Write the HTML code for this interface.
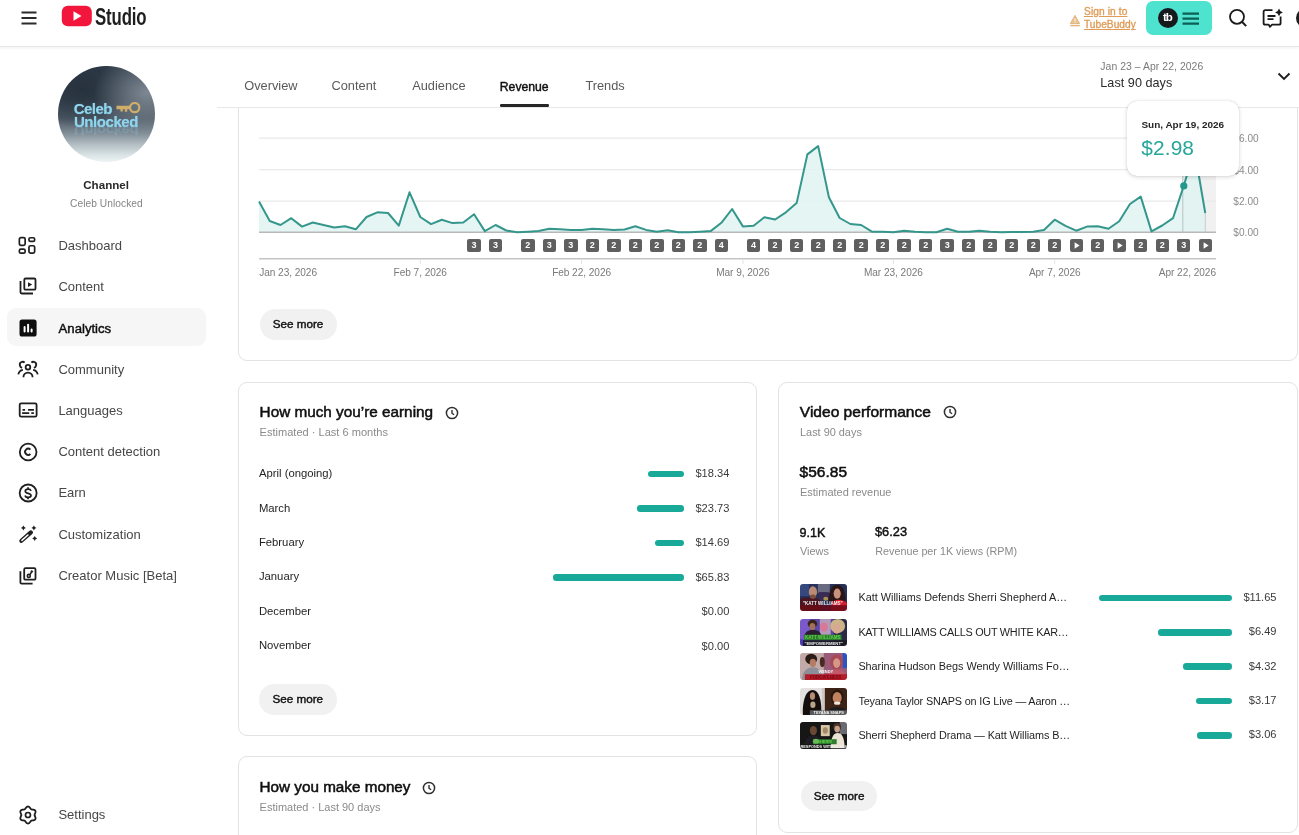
<!DOCTYPE html><html><head><meta charset="utf-8"><title>Channel analytics - YouTube Studio</title><style>
*{box-sizing:border-box}
html,body{margin:0;padding:0;background:#fff}
body{width:1299px;height:835px;overflow:hidden;position:relative;font-family:"Liberation Sans", Arial, sans-serif;-webkit-font-smoothing:antialiased}
.ab{position:absolute}
.t{position:absolute;white-space:nowrap}
#hdr{position:absolute;left:0;top:0;width:1299px;height:47.3px;background:#fff;border-bottom:1.6px solid #e7e7e7;box-shadow:0 1.5px 2px rgba(0,0,0,0.035)}
.card{position:absolute;border:1.2px solid #e3e3e3;border-radius:9px;background:#fff}
.mk{position:absolute;top:239.3px;width:13.4px;height:13.2px;border-radius:2px;background:#5f5f5f;color:#fff;font-size:9px;line-height:13.2px;text-align:center;font-weight:700}
.thumb{width:47.6px;height:27.3px;border-radius:3px;overflow:hidden}
#av{left:58.2px;top:65.5px;width:96.6px;height:96.6px;border-radius:50%;overflow:hidden;
background:radial-gradient(ellipse 55% 45% at 92% 28%,rgba(150,160,170,0.75),rgba(150,160,170,0) 100%),radial-gradient(ellipse 50% 40% at 25% 25%,rgba(30,40,52,0.6),rgba(30,40,52,0) 100%),linear-gradient(180deg,#2f3b48 0%,#36424f 35%,#4b5763 55%,#7d8993 69%,#b4bfc4 82%,#dae4e6 93%,#eef4f4 100%)}
#avt1,#avt2,#avt3{position:absolute;font-weight:700;color:#8fd5ee;letter-spacing:-0.4px;font-size:15px;line-height:15px;text-shadow:0 0 1px rgba(140,215,240,0.6)}
#avt1{left:15.5px;top:35px;letter-spacing:-0.5px}
#avt2{left:15.8px;top:48px;letter-spacing:-0.45px}
#avt3{left:15.8px;top:57.5px;transform:scaleY(-0.8);opacity:0.22}
</style></head><body><div class="card" style="left:237.5px;top:60px;width:1060.3px;height:301px"></div><svg class="ab" style="left:0;top:0" width="1299" height="835" viewBox="0 0 1299 835"><rect x="1183" y="110" width="33" height="122.3" fill="#f1f1f1"/><line x1="259" y1="138.1" x2="1216" y2="138.1" stroke="#e9e9e9" stroke-width="1.2"/><line x1="259" y1="169.7" x2="1216" y2="169.7" stroke="#e9e9e9" stroke-width="1.2"/><line x1="259" y1="201.2" x2="1216" y2="201.2" stroke="#e9e9e9" stroke-width="1.2"/><polygon points="259.00,201.60 269.75,221.00 280.51,225.00 291.26,218.20 302.01,226.60 312.76,222.50 323.52,225.00 334.27,227.40 345.02,226.20 355.78,229.30 366.53,217.00 377.28,212.30 388.03,213.00 398.79,225.60 409.54,192.30 420.29,217.00 431.04,224.10 441.80,219.70 452.55,223.10 463.30,222.50 474.06,214.20 484.81,231.10 495.56,225.00 506.31,230.50 517.07,232.30 527.82,231.70 538.57,231.10 549.33,228.70 560.08,229.30 570.83,229.90 581.58,229.90 592.34,228.70 603.09,229.30 613.84,229.90 624.60,229.50 635.35,226.20 646.10,229.90 656.85,231.70 667.61,230.30 678.36,232.30 689.11,232.30 699.87,231.70 710.62,231.10 721.37,222.80 732.12,209.00 742.88,226.40 753.63,225.70 764.38,217.20 775.13,219.50 785.89,212.30 796.64,203.10 807.39,154.40 818.15,146.10 828.90,197.20 839.65,218.00 850.40,224.00 861.16,225.00 871.91,231.70 882.66,231.70 893.42,232.30 904.17,230.70 914.92,231.70 925.67,232.30 936.43,232.30 947.18,228.70 957.93,231.70 968.69,231.70 979.44,230.70 990.19,231.70 1000.94,232.30 1011.70,232.00 1022.45,232.00 1033.20,231.70 1043.96,229.90 1054.71,219.70 1065.46,225.80 1076.21,230.70 1086.97,226.60 1097.72,226.20 1108.47,228.70 1119.22,221.30 1129.98,204.00 1140.73,196.60 1151.48,231.40 1162.24,225.50 1172.99,218.20 1183.74,185.90 1194.49,150.00 1205.25,213.00 1205.25,232.3 259,232.3" fill="#dff3f2" fill-opacity="0.85"/><line x1="1182.8" y1="110" x2="1182.8" y2="232.3" stroke="#b9c4c3" stroke-width="1"/><line x1="1205.3" y1="213" x2="1205.3" y2="232.3" stroke="#c5cfce" stroke-width="1"/><line x1="259" y1="232.3" x2="1216" y2="232.3" stroke="#b8b8b8" stroke-width="1.4"/><polyline points="259.00,201.60 269.75,221.00 280.51,225.00 291.26,218.20 302.01,226.60 312.76,222.50 323.52,225.00 334.27,227.40 345.02,226.20 355.78,229.30 366.53,217.00 377.28,212.30 388.03,213.00 398.79,225.60 409.54,192.30 420.29,217.00 431.04,224.10 441.80,219.70 452.55,223.10 463.30,222.50 474.06,214.20 484.81,231.10 495.56,225.00 506.31,230.50 517.07,232.30 527.82,231.70 538.57,231.10 549.33,228.70 560.08,229.30 570.83,229.90 581.58,229.90 592.34,228.70 603.09,229.30 613.84,229.90 624.60,229.50 635.35,226.20 646.10,229.90 656.85,231.70 667.61,230.30 678.36,232.30 689.11,232.30 699.87,231.70 710.62,231.10 721.37,222.80 732.12,209.00 742.88,226.40 753.63,225.70 764.38,217.20 775.13,219.50 785.89,212.30 796.64,203.10 807.39,154.40 818.15,146.10 828.90,197.20 839.65,218.00 850.40,224.00 861.16,225.00 871.91,231.70 882.66,231.70 893.42,232.30 904.17,230.70 914.92,231.70 925.67,232.30 936.43,232.30 947.18,228.70 957.93,231.70 968.69,231.70 979.44,230.70 990.19,231.70 1000.94,232.30 1011.70,232.00 1022.45,232.00 1033.20,231.70 1043.96,229.90 1054.71,219.70 1065.46,225.80 1076.21,230.70 1086.97,226.60 1097.72,226.20 1108.47,228.70 1119.22,221.30 1129.98,204.00 1140.73,196.60 1151.48,231.40 1162.24,225.50 1172.99,218.20 1183.74,185.90 1194.49,150.00 1205.25,213.00" fill="none" stroke="#35978c" stroke-width="2" stroke-linejoin="round"/><circle cx="1183.8" cy="185.9" r="3.6" fill="#22998c"/><line x1="259" y1="258.8" x2="1216" y2="258.8" stroke="#c4c4c4" stroke-width="1.6"/><line x1="420.3" y1="259" x2="420.3" y2="264" stroke="#e4e4e4" stroke-width="1"/><line x1="581.6" y1="259" x2="581.6" y2="264" stroke="#e4e4e4" stroke-width="1"/><line x1="742.9" y1="259" x2="742.9" y2="264" stroke="#e4e4e4" stroke-width="1"/><line x1="893.4" y1="259" x2="893.4" y2="264" stroke="#e4e4e4" stroke-width="1"/><line x1="1054.7" y1="259" x2="1054.7" y2="264" stroke="#e4e4e4" stroke-width="1"/></svg><div class="mk" style="left:467.36px">3</div><div class="mk" style="left:488.86px">3</div><div class="mk" style="left:521.12px">2</div><div class="mk" style="left:542.63px">3</div><div class="mk" style="left:564.13px">3</div><div class="mk" style="left:585.64px">2</div><div class="mk" style="left:607.14px">2</div><div class="mk" style="left:628.65px">2</div><div class="mk" style="left:650.15px">2</div><div class="mk" style="left:671.66px">2</div><div class="mk" style="left:693.17px">2</div><div class="mk" style="left:714.67px">4</div><div class="mk" style="left:746.93px">4</div><div class="mk" style="left:768.43px">2</div><div class="mk" style="left:789.94px">2</div><div class="mk" style="left:811.45px">2</div><div class="mk" style="left:832.95px">2</div><div class="mk" style="left:854.46px">2</div><div class="mk" style="left:875.96px">2</div><div class="mk" style="left:897.47px">2</div><div class="mk" style="left:918.97px">2</div><div class="mk" style="left:940.48px">3</div><div class="mk" style="left:961.99px">2</div><div class="mk" style="left:983.49px">2</div><div class="mk" style="left:1005.00px">2</div><div class="mk" style="left:1026.50px">2</div><div class="mk" style="left:1048.01px">2</div><div class="mk" style="left:1069.51px"><svg width="13" height="13" viewBox="0 0 13 13" style="display:block"><path d="M4.6 3.3v6.4l5-3.2z" fill="#fff"/></svg></div><div class="mk" style="left:1091.02px">2</div><div class="mk" style="left:1112.52px"><svg width="13" height="13" viewBox="0 0 13 13" style="display:block"><path d="M4.6 3.3v6.4l5-3.2z" fill="#fff"/></svg></div><div class="mk" style="left:1134.03px">2</div><div class="mk" style="left:1155.54px">2</div><div class="mk" style="left:1177.04px">3</div><div class="mk" style="left:1198.55px"><svg width="13" height="13" viewBox="0 0 13 13" style="display:block"><path d="M4.6 3.3v6.4l5-3.2z" fill="#fff"/></svg></div><div class="t" style="top:268.25px;font-size:10.1px;line-height:10.1px;color:#7a7a7a;letter-spacing:-0.05px;left:259.20px;">Jan 23, 2026</div>
<div class="t" style="top:268.25px;font-size:10.1px;line-height:10.1px;color:#7a7a7a;letter-spacing:-0.05px;left:220.29px;width:400px;text-align:center;">Feb 7, 2026</div>
<div class="t" style="top:268.25px;font-size:10.1px;line-height:10.1px;color:#7a7a7a;letter-spacing:-0.05px;left:381.58px;width:400px;text-align:center;">Feb 22, 2026</div>
<div class="t" style="top:268.25px;font-size:10.1px;line-height:10.1px;color:#7a7a7a;letter-spacing:-0.05px;left:542.88px;width:400px;text-align:center;">Mar 9, 2026</div>
<div class="t" style="top:268.25px;font-size:10.1px;line-height:10.1px;color:#7a7a7a;letter-spacing:-0.05px;left:693.42px;width:400px;text-align:center;">Mar 23, 2026</div>
<div class="t" style="top:268.25px;font-size:10.1px;line-height:10.1px;color:#7a7a7a;letter-spacing:-0.05px;left:854.71px;width:400px;text-align:center;">Apr 7, 2026</div>
<div class="t" style="top:268.25px;font-size:10.1px;line-height:10.1px;color:#7a7a7a;letter-spacing:-0.05px;right:83.00px;text-align:right;">Apr 22, 2026</div>
<div class="t" style="top:133.95px;font-size:10.1px;line-height:10.1px;color:#8c8c8c;right:40.40px;text-align:right;">$6.00</div>
<div class="t" style="top:165.55px;font-size:10.1px;line-height:10.1px;color:#8c8c8c;right:40.40px;text-align:right;">$4.00</div>
<div class="t" style="top:197.05px;font-size:10.1px;line-height:10.1px;color:#8c8c8c;right:40.40px;text-align:right;">$2.00</div>
<div class="t" style="top:228.15px;font-size:10.1px;line-height:10.1px;color:#8c8c8c;right:40.40px;text-align:right;">$0.00</div>
<div class="ab" style="left:259.5px;top:308.6px;width:77.5px;height:31px;border-radius:15.5px;background:#f1f1f1"></div><div class="t" style="top:317.80px;font-size:11.7px;line-height:11.7px;color:#0f0f0f;-webkit-text-stroke:0.40px #0f0f0f;left:272.70px;">See more</div>
<div class="card" style="left:237.5px;top:381.8px;width:519.5px;height:354.5px"></div><div class="t" style="top:403.95px;font-size:15.3px;line-height:15.3px;color:#0f0f0f;-webkit-text-stroke:0.52px #0f0f0f;left:259.60px;">How much you’re earning</div>
<svg class="ab" style="left:445px;top:406px" width="14" height="14" viewBox="0 0 14 14"><circle cx="7" cy="7" r="5.6" stroke="#303030" stroke-width="1.5" fill="none"/><path d="M7 3.9V7.2l2.1 1.6" stroke="#303030" stroke-width="1.4" fill="none"/></svg><div class="t" style="top:427.25px;font-size:11.05px;line-height:11.05px;color:#8a8a8a;left:259.60px;">Estimated · Last 6 months</div>
<div class="t" style="top:468.13px;font-size:11.3px;line-height:11.3px;color:#1f1f1f;left:258.90px;">April (ongoing)</div>
<div class="t" style="top:468.30px;font-size:11.1px;line-height:11.1px;color:#3a3a3a;right:569.70px;text-align:right;">$18.34</div>
<div class="ab" style="left:647.6px;top:470.7px;width:36.7px;height:6.6px;border-radius:3.3px;background:#18a999"></div><div class="t" style="top:502.58px;font-size:11.3px;line-height:11.3px;color:#1f1f1f;left:258.90px;">March</div>
<div class="t" style="top:502.75px;font-size:11.1px;line-height:11.1px;color:#3a3a3a;right:569.70px;text-align:right;">$23.73</div>
<div class="ab" style="left:636.8px;top:505.1px;width:47.5px;height:6.6px;border-radius:3.3px;background:#18a999"></div><div class="t" style="top:537.03px;font-size:11.3px;line-height:11.3px;color:#1f1f1f;left:258.90px;">February</div>
<div class="t" style="top:537.20px;font-size:11.1px;line-height:11.1px;color:#3a3a3a;right:569.70px;text-align:right;">$14.69</div>
<div class="ab" style="left:654.9px;top:539.6px;width:29.4px;height:6.6px;border-radius:3.3px;background:#18a999"></div><div class="t" style="top:571.48px;font-size:11.3px;line-height:11.3px;color:#1f1f1f;left:258.90px;">January</div>
<div class="t" style="top:571.65px;font-size:11.1px;line-height:11.1px;color:#3a3a3a;right:569.70px;text-align:right;">$65.83</div>
<div class="ab" style="left:552.6px;top:574.0px;width:131.7px;height:6.6px;border-radius:3.3px;background:#18a999"></div><div class="t" style="top:605.93px;font-size:11.3px;line-height:11.3px;color:#1f1f1f;left:258.90px;">December</div>
<div class="t" style="top:606.10px;font-size:11.1px;line-height:11.1px;color:#3a3a3a;right:569.70px;text-align:right;">$0.00</div>
<div class="t" style="top:640.38px;font-size:11.3px;line-height:11.3px;color:#1f1f1f;left:258.90px;">November</div>
<div class="t" style="top:640.55px;font-size:11.1px;line-height:11.1px;color:#3a3a3a;right:569.70px;text-align:right;">$0.00</div>
<div class="ab" style="left:259.2px;top:684px;width:78px;height:30.5px;border-radius:15.25px;background:#f1f1f1"></div><div class="t" style="top:693.20px;font-size:11.7px;line-height:11.7px;color:#0f0f0f;-webkit-text-stroke:0.40px #0f0f0f;left:272.40px;">See more</div>
<div class="card" style="left:778px;top:381.8px;width:519.8px;height:451.5px"></div><div class="t" style="top:403.74px;font-size:15.55px;line-height:15.55px;color:#0f0f0f;-webkit-text-stroke:0.53px #0f0f0f;left:799.80px;">Video performance</div>
<svg class="ab" style="left:942.5px;top:404.7px" width="14" height="14" viewBox="0 0 14 14"><circle cx="7" cy="7" r="5.6" stroke="#303030" stroke-width="1.5" fill="none"/><path d="M7 3.9V7.2l2.1 1.6" stroke="#303030" stroke-width="1.4" fill="none"/></svg><div class="t" style="top:426.56px;font-size:10.92px;line-height:10.92px;color:#8a8a8a;left:800.00px;">Last 90 days</div>
<div class="t" style="top:464.08px;font-size:15.5px;line-height:15.5px;color:#0f0f0f;-webkit-text-stroke:0.53px #0f0f0f;left:799.60px;">$56.85</div>
<div class="t" style="top:487.11px;font-size:10.97px;line-height:10.97px;color:#8a8a8a;left:800.00px;">Estimated revenue</div>
<div class="t" style="top:526.58px;font-size:12.55px;line-height:12.55px;color:#0f0f0f;-webkit-text-stroke:0.43px #0f0f0f;left:799.60px;">9.1K</div>
<div class="t" style="top:526.36px;font-size:12.8px;line-height:12.8px;color:#0f0f0f;-webkit-text-stroke:0.44px #0f0f0f;left:875.00px;">$6.23</div>
<div class="t" style="top:546.33px;font-size:10.95px;line-height:10.95px;color:#8a8a8a;left:800.00px;">Views</div>
<div class="t" style="top:546.48px;font-size:10.77px;line-height:10.77px;color:#8a8a8a;left:875.30px;">Revenue per 1K views (RPM)</div>
<svg class="ab thumb" style="left:799.7px;top:584.2px" width="47.6" height="27.3" viewBox="0 0 48 27" preserveAspectRatio="none"><defs><filter id="tb0" x="-5%" y="-5%" width="110%" height="110%"><feGaussianBlur stdDeviation="0.45"/></filter></defs><g filter="url(#tb0)"><rect width="48" height="27" fill="#25305a"/><rect x="0" y="0" width="9" height="12" fill="#34487e"/><rect x="18" y="0" width="12" height="9" fill="#6a6a80"/><rect x="19" y="8" width="10" height="8" fill="#3a2a52"/><ellipse cx="26" cy="14.5" rx="2.5" ry="2" fill="#a89050"/><path d="M0 27V15C4 13 8 13 12 14C16 13 20 15 22 18V27Z" fill="#4a1420"/><ellipse cx="13" cy="7.8" rx="4.2" ry="5.6" fill="#b98a74"/><ellipse cx="13" cy="12.5" rx="3" ry="2" fill="#7a5040"/><path d="M29 18C29 8 31 1 37.5 1S46 8 46 18Z" fill="#2a1612"/><ellipse cx="37.5" cy="9.5" rx="3.6" ry="5" fill="#c8937b"/><path d="M31 27C31 19 34 15.5 38 15.5S48 17 48 21V27Z" fill="#d41a2a"/><rect x="0" y="21" width="48" height="6" fill="#6a0c18" opacity="0.85"/><text x="23" y="21" font-size="4.6" fill="#f4f0f0" font-family="Liberation Sans" font-weight="700" text-anchor="middle">"KATT WILLIAMS"</text></g></svg><div class="t" style="top:592.32px;font-size:10.85px;line-height:10.85px;color:#1f1f1f;letter-spacing:0.007px;left:858.40px;">Katt Williams Defends Sherri Shepherd A…</div>
<div class="ab" style="left:1099.4px;top:594.5px;width:132.8px;height:6.6px;border-radius:3.3px;background:#18a999"></div><div class="t" style="top:591.60px;font-size:11.1px;line-height:11.1px;color:#3a3a3a;right:22.50px;text-align:right;">$11.65</div>
<svg class="ab thumb" style="left:799.7px;top:618.7px" width="47.6" height="27.3" viewBox="0 0 48 27" preserveAspectRatio="none"><defs><filter id="tb1" x="-5%" y="-5%" width="110%" height="110%"><feGaussianBlur stdDeviation="0.45"/></filter></defs><g filter="url(#tb1)"><rect width="48" height="27" fill="#5a46a8"/><rect x="0" y="0" width="10" height="27" fill="#7a5ac8"/><rect x="20" y="0" width="11" height="16" fill="#b49ab8"/><ellipse cx="24" cy="8" rx="4" ry="4.5" fill="#d87898"/><rect x="34" y="0" width="14" height="27" fill="#2a2a44"/><ellipse cx="12.5" cy="4.8" rx="4.8" ry="4" fill="#3a2018"/><ellipse cx="12.5" cy="7.5" rx="3" ry="3.6" fill="#a07058"/><path d="M4 18C5 12 9 11 13 11S21 12 22 18Z" fill="#2a1a30"/><ellipse cx="38" cy="7" rx="7.5" ry="7" fill="#ccb488"/><ellipse cx="37" cy="9.8" rx="4" ry="4.8" fill="#d8a890"/><rect x="4" y="15.5" width="38" height="5.5" fill="#2e7a2e"/><text x="23" y="20" font-size="4.6" fill="#5fcf4a" font-family="Liberation Sans" font-weight="700" text-anchor="middle">KATT WILLIAMS</text><rect x="0" y="21" width="48" height="6" fill="#1a1a28"/><text x="24" y="25.5" font-size="4.3" fill="#f0f0f0" font-family="Liberation Sans" font-weight="700" text-anchor="middle">"EMPOWERMENT"</text><rect x="0" y="20" width="3" height="7" fill="#4a3ab8"/></g></svg><div class="t" style="top:626.77px;font-size:10.85px;line-height:10.85px;color:#1f1f1f;letter-spacing:-0.257px;left:858.40px;">KATT WILLIAMS CALLS OUT WHITE KAR…</div>
<div class="ab" style="left:1158.2px;top:629.0px;width:74.0px;height:6.6px;border-radius:3.3px;background:#18a999"></div><div class="t" style="top:626.05px;font-size:11.1px;line-height:11.1px;color:#3a3a3a;right:22.50px;text-align:right;">$6.49</div>
<svg class="ab thumb" style="left:799.7px;top:653.1px" width="47.6" height="27.3" viewBox="0 0 48 27" preserveAspectRatio="none"><defs><filter id="tb2" x="-5%" y="-5%" width="110%" height="110%"><feGaussianBlur stdDeviation="0.45"/></filter></defs><g filter="url(#tb2)"><rect width="48" height="27" fill="#c2aaa8"/><rect x="24" width="24" height="27" fill="#9a5a78"/><rect x="43" width="5" height="15" fill="#2c52c4"/><ellipse cx="22.5" cy="9" rx="2.5" ry="5" fill="#4a2a24"/><ellipse cx="11.3" cy="6" rx="6" ry="5.2" fill="#2a1a14"/><ellipse cx="13" cy="9.8" rx="3.2" ry="4" fill="#b47c64"/><path d="M2 27C2 18 7 14 13 14S22 18 23 27Z" fill="#8e8e98"/><ellipse cx="37" cy="9" rx="6.5" ry="7.5" fill="#a84858"/><ellipse cx="37" cy="10" rx="3.6" ry="4.8" fill="#d49884"/><path d="M27 27C27 19 31 16 37 16S47 19 47 27Z" fill="#c05868"/><text x="26" y="19.6" font-size="4" fill="#f6f6f6" font-family="Liberation Sans" font-weight="700" text-anchor="middle">WENDY</text><rect x="5" y="21" width="43" height="6" fill="#b41a2a"/><text x="26" y="25.8" font-size="4.4" fill="#7a0a14" font-family="Liberation Sans" font-weight="700" text-anchor="middle">FORGIVENESS</text></g></svg><div class="t" style="top:661.22px;font-size:10.85px;line-height:10.85px;color:#1f1f1f;letter-spacing:-0.022px;left:858.40px;">Sharina Hudson Begs Wendy Williams Fo…</div>
<div class="ab" style="left:1183.0px;top:663.4px;width:49.2px;height:6.6px;border-radius:3.3px;background:#18a999"></div><div class="t" style="top:660.50px;font-size:11.1px;line-height:11.1px;color:#3a3a3a;right:22.50px;text-align:right;">$4.32</div>
<svg class="ab thumb" style="left:799.7px;top:687.6px" width="47.6" height="27.3" viewBox="0 0 48 27" preserveAspectRatio="none"><defs><filter id="tb3" x="-5%" y="-5%" width="110%" height="110%"><feGaussianBlur stdDeviation="0.45"/></filter></defs><g filter="url(#tb3)"><rect width="48" height="27" fill="#e4e0e0"/><rect x="24.5" width="23.5" height="27" fill="#3e2418"/><rect x="22" width="3" height="27" fill="#cfc6c6"/><path d="M3 27C2 16 5 2 12.5 2S22 14 21.5 27Z" fill="#161110"/><ellipse cx="12.6" cy="8" rx="2.6" ry="3.8" fill="#b88c74"/><ellipse cx="13" cy="16.5" rx="2.6" ry="3.2" fill="#b8a488"/><ellipse cx="37.5" cy="9" rx="6.5" ry="7.5" fill="#2a1810"/><ellipse cx="37.5" cy="9.8" rx="4.6" ry="5.8" fill="#c0825e"/><ellipse cx="37.5" cy="15" rx="3.2" ry="1.6" fill="#efe6de"/><path d="M26 27C26 21 31 19 37.5 19S48 21 48 27Z" fill="#1e1c1c"/><rect x="10" y="22" width="38" height="5" fill="#6a6a6e" opacity="0.8"/><text x="29" y="25.8" font-size="4" fill="#f2f2f2" font-family="Liberation Sans" font-weight="700" text-anchor="middle">TEYANA SNAPS</text></g></svg><div class="t" style="top:695.67px;font-size:10.85px;line-height:10.85px;color:#1f1f1f;letter-spacing:-0.158px;left:858.40px;">Teyana Taylor SNAPS on IG Live — Aaron …</div>
<div class="ab" style="left:1196.1px;top:697.9px;width:36.1px;height:6.6px;border-radius:3.3px;background:#18a999"></div><div class="t" style="top:694.95px;font-size:11.1px;line-height:11.1px;color:#3a3a3a;right:22.50px;text-align:right;">$3.17</div>
<svg class="ab thumb" style="left:799.7px;top:722.0px" width="47.6" height="27.3" viewBox="0 0 48 27" preserveAspectRatio="none"><defs><filter id="tb4" x="-5%" y="-5%" width="110%" height="110%"><feGaussianBlur stdDeviation="0.45"/></filter></defs><g filter="url(#tb4)"><rect width="48" height="27" fill="#121214"/><rect x="21" y="3" width="9" height="11" fill="#d6c6a6"/><ellipse cx="25.5" cy="8.5" rx="2.6" ry="3.2" fill="#a4886a"/><rect x="40" y="0" width="8" height="12" fill="#6a6a72"/><ellipse cx="13.5" cy="8.5" rx="3.6" ry="4.6" fill="#6a4630"/><path d="M4 22C5 15 9 13 13.5 13S21 15 22 22Z" fill="#1c1c24"/><ellipse cx="37.5" cy="5" rx="4" ry="4" fill="#4a3028"/><ellipse cx="37.5" cy="7" rx="2.8" ry="3.4" fill="#c4a08a"/><path d="M31 26C31 15 34 11 38 11S45 15 45 26Z" fill="#ebe3d3"/><rect x="13" y="17" width="24" height="5" fill="#2e7a2e"/><ellipse cx="16" cy="19" rx="3" ry="2.5" fill="#6ab85a"/><text x="25" y="21.2" font-size="4" fill="#5fcf4a" font-family="Liberation Sans" font-weight="700" text-anchor="middle">SHERRI</text><text x="24" y="25.6" font-size="3.9" fill="#f0f0f0" font-family="Liberation Sans" font-weight="700" text-anchor="middle">RESPONDS WITH CLASS</text></g></svg><div class="t" style="top:730.12px;font-size:10.85px;line-height:10.85px;color:#1f1f1f;letter-spacing:-0.086px;left:858.40px;">Sherri Shepherd Drama — Katt Williams B…</div>
<div class="ab" style="left:1197.3px;top:732.3px;width:34.9px;height:6.6px;border-radius:3.3px;background:#18a999"></div><div class="t" style="top:729.40px;font-size:11.1px;line-height:11.1px;color:#3a3a3a;right:22.50px;text-align:right;">$3.06</div>
<div class="ab" style="left:800.6px;top:781px;width:76.5px;height:30px;border-radius:15.0px;background:#f1f1f1"></div><div class="t" style="top:790.20px;font-size:11.7px;line-height:11.7px;color:#0f0f0f;-webkit-text-stroke:0.40px #0f0f0f;left:813.80px;">See more</div>
<div class="card" style="left:237.5px;top:756.3px;width:519.5px;height:120px"></div><div class="t" style="top:779.39px;font-size:15.25px;line-height:15.25px;color:#0f0f0f;-webkit-text-stroke:0.52px #0f0f0f;left:259.60px;">How you make money</div>
<svg class="ab" style="left:421.5px;top:781px" width="14" height="14" viewBox="0 0 14 14"><circle cx="7" cy="7" r="5.6" stroke="#303030" stroke-width="1.5" fill="none"/><path d="M7 3.9V7.2l2.1 1.6" stroke="#303030" stroke-width="1.4" fill="none"/></svg><div class="t" style="top:801.90px;font-size:10.99px;line-height:10.99px;color:#8a8a8a;left:259.60px;">Estimated · Last 90 days</div>
<div class="ab" style="left:217px;top:45px;width:1082px;height:62px;background:#fff"></div><div id="hdr"></div><svg class="ab" style="left:19px;top:8px" width="20" height="20" viewBox="0 0 20 20"><path d="M2.5 4.6h15M2.5 10h15M2.5 15.4h15" stroke="#2b2b2b" stroke-width="2" fill="none"/></svg><svg class="ab" style="left:61px;top:5px" width="32" height="22" viewBox="0 0 32 22"><rect x="0.8" y="0.8" width="30" height="20.4" rx="6" fill="#f2163d"/><path d="M12.5 6.3v9.4l8-4.7z" fill="#fff"/></svg><div class="t" style="left:95.3px;top:3.4px;font-size:24.2px;line-height:27px;font-weight:700;color:#1e1e1e;transform:scaleX(0.695);transform-origin:0 0;letter-spacing:-0.2px">Studio</div><svg class="ab" style="left:1069px;top:14px" width="12" height="14" viewBox="0 0 12 14"><path d="M6 1.4L10.6 9.6H1.4z" fill="#e9c493" stroke="#e2b37c" stroke-width="1" stroke-linejoin="round"/><path d="M6 4.6v2.6M6 8v.8" stroke="#fbf3e8" stroke-width="1.1"/><path d="M1.2 11.6h9.6" stroke="#e2b37c" stroke-width="1.4"/></svg><div class="t" style="top:6.57px;font-size:10.2px;line-height:10.2px;color:#df9c58;-webkit-text-stroke:0.35px #df9c58;letter-spacing:0.1px;left:1084.00px;text-decoration:underline;text-underline-offset:1px;text-decoration-thickness:1px;">Sign in to</div>
<div class="t" style="top:20.47px;font-size:10.2px;line-height:10.2px;color:#df9c58;-webkit-text-stroke:0.35px #df9c58;left:1084.00px;text-decoration:underline;text-underline-offset:1px;text-decoration-thickness:1px;">TubeBuddy</div>
<div class="ab" style="left:1146px;top:1px;width:66px;height:34px;border-radius:7px;background:#4ee3cf"></div><div class="ab" style="left:1157.5px;top:7.5px;width:20.5px;height:20.5px;border-radius:50%;background:#151a1c;display:flex;align-items:center;justify-content:center;font-size:11.5px;font-weight:700;color:#fff;letter-spacing:-1.2px;padding-right:1px;line-height:1">tb</div><svg class="ab" style="left:1181px;top:11px" width="20" height="15" viewBox="0 0 20 15"><path d="M1.5 2.6h16.5M1.5 7.6h16.5M1.5 12.6h16.5" stroke="#0d5f55" stroke-width="2.2" fill="none"/></svg><svg class="ab" style="left:1226px;top:7px" width="24" height="22" viewBox="0 0 24 22"><circle cx="11" cy="9.8" r="7" stroke="#1a1a1a" stroke-width="1.8" fill="none"/><path d="M16 14.8l4.2 4.3" stroke="#1a1a1a" stroke-width="2" fill="none"/></svg><svg class="ab" style="left:1261px;top:7px" width="24" height="22" viewBox="0 0 24 22"><path d="M11.5 3.2H4.3c-1 0-1.7.7-1.7 1.7v11c0 1 .7 1.7 1.7 1.7h3.4l1.2 2.2 2.2-2.2h6.8c1 0 1.7-.7 1.7-1.7V9.6" stroke="#1a1a1a" stroke-width="1.8" fill="none" stroke-linejoin="round"/><path d="M6.5 9h8M6.5 12.2h6" stroke="#1a1a1a" stroke-width="1.8"/><path d="M18 1.5l1.3 2.6 2.6 1.3-2.6 1.3L18 9.3l-1.3-2.6-2.6-1.3 2.6-1.3z" fill="#1a1a1a"/></svg><div class="ab" style="left:1296px;top:8px;width:20px;height:20px;border-radius:50%;background:#1c1c1c"></div><div class="ab" id="av"><div id="avt1">Celeb</div><div id="avt2">Unlocked</div><div id="avt3">Unlocked</div>
<svg class="ab" style="left:57.6px;top:36.2px" width="25" height="12" viewBox="0 0 25 12"><circle cx="18.7" cy="5.6" r="4.6" stroke="#cfae6a" stroke-width="2.2" fill="none"/><path d="M0.5 3.8h13.8v3.4H11.2v2.6H8.8V7.2H6.8v2.2H4.4V7.2H0.5z" fill="#cfae6a"/></svg></div><div class="t" style="top:178.98px;font-size:11.6px;line-height:11.6px;color:#2a2a2a;font-weight:700;left:-93.90px;width:400px;text-align:center;">Channel</div>
<div class="t" style="top:198.67px;font-size:10.2px;line-height:10.2px;color:#858585;letter-spacing:0.05px;left:-93.60px;width:400px;text-align:center;">Celeb Unlocked</div>
<div class="ab" style="left:7px;top:308px;width:199px;height:38px;border-radius:9px;background:#f6f6f6"></div><svg class="ab" style="left:14.8px;top:233.00px" width="24" height="24" viewBox="0 0 24 24" fill="none" stroke="#1f1f1f" stroke-width="1.8"><g stroke-width="1.7"><rect x="4.35" y="4.65" width="5.8" height="7.7" rx="1.6"/><rect x="13.95" y="4.75" width="5.7" height="3.7" rx="1.5"/><rect x="4.35" y="16.15" width="5.8" height="4.0" rx="1.5"/><rect x="13.95" y="12.75" width="5.7" height="7.4" rx="1.6"/></g></svg><div class="t" style="top:238.60px;font-size:13px;line-height:13px;color:#474747;left:58.40px;">Dashboard</div>
<svg class="ab" style="left:15.5px;top:274.10px" width="24" height="24" viewBox="0 0 24 24" fill="none" stroke="#1f1f1f" stroke-width="1.8"><rect x="8.3" y="4.5" width="11.2" height="11.2" rx="1.3"/><path d="M4.5 7.1V18.3Q4.5 19.5 5.7 19.5H17"/><path d="M12 8.2V12.9L16.2 10.55Z" fill="#1f1f1f" stroke="none"/></svg><div class="t" style="top:279.90px;font-size:13px;line-height:13px;color:#474747;left:58.40px;">Content</div>
<svg class="ab" style="left:15.5px;top:315.5px" width="24" height="24" viewBox="0 0 24 24"><rect x="3.5" y="3.4" width="17.1" height="17.2" rx="2.6" fill="#0f0f0f"/><path d="M8.6 11.1V15.6M12.1 8.7V15.6M15.6 13.4V15.6" stroke="#fff" stroke-width="2" stroke-linecap="round"/></svg><div class="t" style="top:321.57px;font-size:13.15px;line-height:13.15px;color:#0f0f0f;-webkit-text-stroke:0.45px #0f0f0f;left:58.60px;">Analytics</div>
<svg class="ab" style="left:15.5px;top:357.60px" width="24" height="24" viewBox="0 0 24 24" fill="none" stroke="#1f1f1f" stroke-width="1.8"><circle cx="11.95" cy="9.25" r="2.3"/><path d="M7.4 19.3C7.4 16.5 9.4 14.6 12 14.6C14.6 14.6 16.6 16.5 16.6 19.3"/><path d="M2.3 16.4C2.8 13.7 4.6 12.1 6.9 11.8M21.7 16.4C21.2 13.7 19.4 12.1 17.1 11.8"/><path d="M8.6 4.7C7.9 3.9 6.9 3.6 5.9 3.9C4.4 4.3 3.5 5.9 3.9 7.4C4.2 8.6 5 9.5 6.1 9.9M15.4 4.7C16.1 3.9 17.1 3.6 18.1 3.9C19.6 4.3 20.5 5.9 20.1 7.4C19.8 8.6 19 9.5 17.9 9.9"/></svg><div class="t" style="top:362.50px;font-size:13px;line-height:13px;color:#474747;left:58.40px;">Community</div>
<svg class="ab" style="left:15.5px;top:398.25px" width="24" height="24" viewBox="0 0 24 24" fill="none" stroke="#1f1f1f" stroke-width="1.8"><rect x="3.7" y="5.35" width="16.9" height="13.3" rx="1.5"/><path d="M6.5 11.85H9.1M12 11.85H17.9M6.1 15.15H13.25M15.3 15.15H17.9" stroke-width="1.7"/></svg><div class="t" style="top:403.80px;font-size:13px;line-height:13px;color:#474747;left:58.40px;">Languages</div>
<svg class="ab" style="left:15.5px;top:439.50px" width="24" height="24" viewBox="0 0 24 24" fill="none" stroke="#1f1f1f" stroke-width="1.8"><circle cx="12.15" cy="12" r="8.35"/><path d="M14.4 9.6A3.1 3.1 0 1 0 14.4 14.0"/></svg><div class="t" style="top:445.10px;font-size:13px;line-height:13px;color:#474747;left:58.40px;">Content detection</div>
<svg class="ab" style="left:15.5px;top:480.85px" width="24" height="24" viewBox="0 0 24 24" fill="none" stroke="#1f1f1f" stroke-width="1.8"><circle cx="12.15" cy="12" r="8.5"/><path d="M15 9.9C14.7 8.8 13.6 8.2 12.1 8.2C10.4 8.2 9.3 9 9.3 10.2C9.3 11.5 10.4 11.9 12.1 12.3C13.9 12.7 15 13.2 15 14.5C15 15.7 13.8 16.4 12.1 16.4C10.5 16.4 9.4 15.7 9.1 14.5M12.1 6.3V8.2M12.1 16.4V18.2" stroke-width="1.7"/></svg><div class="t" style="top:486.40px;font-size:13px;line-height:13px;color:#474747;left:58.40px;">Earn</div>
<svg class="ab" style="left:15.5px;top:521.50px" width="24" height="24" viewBox="0 0 24 24" fill="none" stroke="#1f1f1f" stroke-width="1.8"><path d="M5.4 18.8L14.9 10.4" stroke-width="4.2" stroke-linecap="round"/><path d="M5.9 18.35L11.9 13.05" stroke="#fff" stroke-width="1.5" stroke-linecap="round"/><path d="M7.4 3.40L8.35 4.95L9.90 5.9L8.35 6.85L7.4 8.40L6.45 6.85L4.90 5.9L6.45 4.95ZM17.9 3.40L18.85 4.95L20.40 5.9L18.85 6.85L17.9 8.40L16.95 6.85L15.40 5.9L16.95 4.95ZM18.7 13.90L19.65 15.45L21.20 16.4L19.65 17.35L18.7 18.90L17.75 17.35L16.20 16.4L17.75 15.45Z" fill="#1f1f1f" stroke="none"/></svg><div class="t" style="top:527.70px;font-size:13px;line-height:13px;color:#474747;left:58.40px;">Customization</div>
<svg class="ab" style="left:15.5px;top:563.50px" width="24" height="24" viewBox="0 0 24 24" fill="none" stroke="#1f1f1f" stroke-width="1.8"><rect x="8.2" y="4.2" width="11.3" height="11.5" rx="1.3"/><path d="M4.4 7.2V18.4Q4.4 19.6 5.6 19.6H16.6"/><circle cx="12.8" cy="11.9" r="1.5" stroke-width="1.6"/><path d="M14 10.7L15.6 8" stroke-width="1.5"/><path d="M15.6 6.1L17.4 7.5L15.9 9L14.4 7.6Z" fill="#1f1f1f" stroke="none"/></svg><div class="t" style="top:569.00px;font-size:13px;line-height:13px;color:#474747;left:58.40px;">Creator Music [Beta]</div>
<svg class="ab" style="left:15.5px;top:803.45px" width="24" height="24" viewBox="0 0 24 24" fill="none" stroke="#1f1f1f" stroke-width="1.8"><path d="M11.95 3.50 L12.39 3.56 L12.82 3.73 L13.22 3.99 L13.58 4.33 L13.90 4.71 L14.19 5.10 L14.46 5.47 L14.71 5.80 L14.97 6.08 L15.25 6.28 L15.57 6.43 L15.94 6.51 L16.35 6.57 L16.81 6.61 L17.29 6.66 L17.78 6.75 L18.25 6.90 L18.68 7.11 L19.04 7.40 L19.31 7.75 L19.48 8.16 L19.55 8.62 L19.52 9.09 L19.41 9.58 L19.24 10.05 L19.05 10.49 L18.86 10.91 L18.69 11.29 L18.59 11.65 L18.55 12.00 L18.59 12.35 L18.69 12.71 L18.86 13.09 L19.05 13.51 L19.24 13.95 L19.41 14.42 L19.52 14.91 L19.55 15.38 L19.48 15.84 L19.31 16.25 L19.04 16.60 L18.68 16.89 L18.25 17.10 L17.78 17.25 L17.29 17.34 L16.81 17.39 L16.35 17.43 L15.94 17.49 L15.57 17.57 L15.25 17.72 L14.97 17.92 L14.71 18.20 L14.46 18.53 L14.19 18.90 L13.90 19.29 L13.58 19.67 L13.22 20.01 L12.82 20.27 L12.39 20.44 L11.95 20.50 L11.51 20.44 L11.08 20.27 L10.68 20.01 L10.32 19.67 L10.00 19.29 L9.71 18.90 L9.44 18.53 L9.19 18.20 L8.93 17.92 L8.65 17.72 L8.33 17.57 L7.96 17.49 L7.55 17.43 L7.09 17.39 L6.61 17.34 L6.12 17.25 L5.65 17.10 L5.22 16.89 L4.86 16.60 L4.59 16.25 L4.42 15.84 L4.35 15.38 L4.38 14.91 L4.49 14.42 L4.66 13.95 L4.85 13.51 L5.04 13.09 L5.21 12.71 L5.31 12.35 L5.35 12.00 L5.31 11.65 L5.21 11.29 L5.04 10.91 L4.85 10.49 L4.66 10.05 L4.49 9.58 L4.38 9.09 L4.35 8.62 L4.42 8.16 L4.59 7.75 L4.86 7.40 L5.22 7.11 L5.65 6.90 L6.12 6.75 L6.61 6.66 L7.09 6.61 L7.55 6.57 L7.96 6.51 L8.33 6.43 L8.65 6.28 L8.93 6.08 L9.19 5.80 L9.44 5.47 L9.71 5.10 L10.00 4.71 L10.32 4.33 L10.68 3.99 L11.08 3.73 L11.51 3.56 L11.95 3.50Z" stroke-linejoin="round"/><circle cx="11.95" cy="12" r="2.5" stroke-width="1.7"/></svg><div class="t" style="top:808.40px;font-size:13px;line-height:13px;color:#474747;left:58.40px;">Settings</div>
<div class="ab" style="left:217px;top:106.7px;width:1082px;height:1.6px;background:#e8e8e8"></div><div class="t" style="top:80.06px;font-size:12.8px;line-height:12.8px;color:#5a5a5a;left:244.20px;">Overview</div>
<div class="t" style="top:80.06px;font-size:12.8px;line-height:12.8px;color:#5a5a5a;left:331.50px;">Content</div>
<div class="t" style="top:80.06px;font-size:12.8px;line-height:12.8px;color:#5a5a5a;left:412.20px;">Audience</div>
<div class="t" style="top:80.57px;font-size:12.2px;line-height:12.2px;color:#0f0f0f;-webkit-text-stroke:0.41px #0f0f0f;left:499.80px;">Revenue</div>
<div class="t" style="top:80.06px;font-size:12.8px;line-height:12.8px;color:#5a5a5a;left:585.40px;">Trends</div>
<div class="ab" style="left:500px;top:104.4px;width:49px;height:2.3px;border-radius:1.2px;background:#262626"></div><div class="t" style="top:61.80px;font-size:10.4px;line-height:10.4px;color:#7a7a7a;letter-spacing:0.06px;left:1100.30px;">Jan 23 – Apr 22, 2026</div>
<div class="t" style="top:76.93px;font-size:12.6px;line-height:12.6px;color:#2a2a2a;letter-spacing:0.05px;left:1100.30px;">Last 90 days</div>
<svg class="ab" style="left:1276px;top:70px" width="16" height="12" viewBox="0 0 16 12"><path d="M2.5 3.5l5.5 5.5 5.5-5.5" stroke="#1f1f1f" stroke-width="1.9" fill="none"/></svg><div class="ab" style="left:1127px;top:101px;width:111.5px;height:75px;border-radius:10px;background:#fff;box-shadow:0 1px 4px rgba(0,0,0,0.16),0 0 1px rgba(0,0,0,0.2)"></div><div class="t" style="top:119.95px;font-size:9.98px;line-height:9.98px;color:#262626;font-weight:700;left:1141.40px;">Sun, Apr 19, 2026</div>
<div class="t" style="top:137.91px;font-size:20.9px;line-height:20.9px;color:#26a69a;letter-spacing:0.1px;left:1141.30px;">$2.98</div>
</body></html>
